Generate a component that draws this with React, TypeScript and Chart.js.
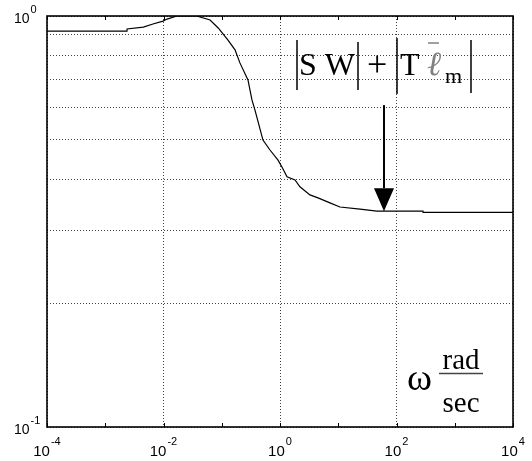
import React, { useEffect, useRef } from "react";
import { Chart, registerables } from "chart.js";

Chart.register(...registerables);

// Frequency (rad/sec) and magnitude values
const freq = [
  1e-4, 0.00236, 0.00237, 0.0045, 0.0066, 0.0098, 0.0115, 0.017, 0.037, 0.063,
  0.087, 0.128, 0.169, 0.205, 0.282, 0.33, 0.372, 0.51, 0.673, 0.925, 1.08, 1.32,
  1.81, 2.2, 3.27, 4.49, 7.2, 10.7, 23.6, 46, 285, 286, 1e4,
];
const magnitude = [
  0.919, 0.919, 0.93, 0.94, 0.956, 0.972, 0.983, 1.0, 1.0, 0.978,
  0.935, 0.874, 0.827, 0.769, 0.699, 0.625, 0.59, 0.499, 0.472, 0.446, 0.429, 0.406,
  0.399, 0.384, 0.367, 0.361, 0.351, 0.343, 0.339, 0.335, 0.335, 0.333, 0.333,
];

// Axis ticks
const xDecades = [1e-4, 1e-3, 1e-2, 1e-1, 1, 1e1, 1e2, 1e3, 1e4];
const xLabelValues = [1e-4, 1e-2, 1, 1e2, 1e4];
const xLabelExponents = ["-4", "-2", "0", "2", "4"];
const yGridValues = [0.1, 0.2, 0.3, 0.4, 0.5, 0.6, 0.7, 0.8, 0.9, 1.0];
const yLabelValues = [0.1, 1];
const yLabelExponents = ["-1", "0"];

// Arrow annotation (data coordinates)
const arrowX = 61;
const arrowTopY = 0.607;
const arrowHeadBaseY = 0.381;
const arrowTipY = 0.335;

const SANS = '"Liberation Sans", Arial, sans-serif';
const SERIF = '"Liberation Serif", "Times New Roman", serif';

const overlayPlugin = {
  id: "overlay",
  afterDraw(chart: any) {
    const ctx = chart.ctx as CanvasRenderingContext2D;
    const { left, right, top, bottom } = chart.chartArea;
    const xs = chart.scales.x;
    const ys = chart.scales.y;
    ctx.save();

    // frame
    ctx.strokeStyle = "#000";
    ctx.lineWidth = 1.6;
    ctx.strokeRect(left, top, right - left, bottom - top);

    // inward ticks on x
    ctx.lineWidth = 1;
    xDecades.forEach((v) => {
      const px = Math.round(xs.getPixelForValue(v)) + 0.5;
      ctx.beginPath();
      ctx.moveTo(px, bottom);
      ctx.lineTo(px, bottom - 4);
      ctx.moveTo(px, top);
      ctx.lineTo(px, top + 4);
      ctx.stroke();
    });

    // x tick labels
    ctx.fillStyle = "#000";
    ctx.textBaseline = "alphabetic";
    ctx.textAlign = "left";
    xLabelValues.forEach((v, i) => {
      const px = xs.getPixelForValue(v);
      ctx.font = `15px ${SANS}`;
      const w1 = ctx.measureText("10").width;
      ctx.font = `11px ${SANS}`;
      const w2 = ctx.measureText(xLabelExponents[i]).width;
      const start = px - (w1 + w2 + 1) / 2;
      ctx.font = `15px ${SANS}`;
      ctx.fillText("10", start, bottom + 29);
      ctx.font = `11px ${SANS}`;
      ctx.fillText(xLabelExponents[i], start + w1 + 1, bottom + 18);
    });

    // y tick labels
    yLabelValues.forEach((v, i) => {
      const py = ys.getPixelForValue(v);
      ctx.font = `14px ${SANS}`;
      const w1 = ctx.measureText("10").width;
      const x0 = left - 33;
      ctx.fillText("10", x0, py + 7);
      ctx.font = `11px ${SANS}`;
      ctx.fillText(yLabelExponents[i], x0 + w1 + 1, py - 3);
    });

    // arrow
    const ax = xs.getPixelForValue(arrowX);
    const aTop = ys.getPixelForValue(arrowTopY);
    const aBase = ys.getPixelForValue(arrowHeadBaseY);
    const aTip = ys.getPixelForValue(arrowTipY);
    ctx.strokeStyle = "#000";
    ctx.lineWidth = 2;
    ctx.beginPath();
    ctx.moveTo(ax, aTop);
    ctx.lineTo(ax, aBase);
    ctx.stroke();
    ctx.beginPath();
    ctx.moveTo(ax - 10, aBase);
    ctx.lineTo(ax + 10, aBase);
    ctx.lineTo(ax, aTip);
    ctx.closePath();
    ctx.fill();

    // formula |S W| + |T l_m|
    const fx = left;
    const fy = top;
    const bar = (x: number, y1: number, y2: number) => {
      ctx.beginPath();
      ctx.moveTo(x, y1);
      ctx.lineTo(x, y2);
      ctx.stroke();
    };
    ctx.lineWidth = 1.5;
    bar(fx + 250, fy + 24, fy + 74);
    bar(fx + 311, fy + 26, fy + 74);
    bar(fx + 350, fy + 22, fy + 78);
    bar(fx + 424, fy + 24, fy + 77);
    ctx.font = `32px ${SERIF}`;
    ctx.fillText("S W", fx + 252, fy + 59);
    ctx.font = `36px ${SERIF}`;
    ctx.fillText("+", fx + 320, fy + 60);
    ctx.font = `32px ${SERIF}`;
    ctx.fillText("T", fx + 353, fy + 59);
    ctx.fillStyle = "#808080";
    ctx.font = `italic 34px ${SERIF}`;
    ctx.fillText("\u2113", fx + 380, fy + 59);
    ctx.strokeStyle = "#808080";
    ctx.lineWidth = 1.5;
    ctx.beginPath();
    ctx.moveTo(fx + 381, fy + 27);
    ctx.lineTo(fx + 392, fy + 27);
    ctx.stroke();
    ctx.fillStyle = "#000";
    ctx.font = `22px ${SERIF}`;
    ctx.fillText("m", fx + 398, fy + 67);

    // omega rad / sec
    ctx.font = `38px ${SERIF}`;
    ctx.fillText("\u03c9", fx + 360, fy + 374);
    ctx.font = `29px ${SERIF}`;
    ctx.textAlign = "center";
    ctx.fillText("rad", fx + 414, fy + 353);
    ctx.fillText("sec", fx + 414, fy + 396);
    ctx.strokeStyle = "#444";
    ctx.lineWidth = 1.5;
    ctx.beginPath();
    ctx.moveTo(fx + 392, fy + 357.5);
    ctx.lineTo(fx + 436, fy + 357.5);
    ctx.stroke();

    ctx.restore();
  },
};

export default function App() {
  const canvasRef = useRef<HTMLCanvasElement | null>(null);

  useEffect(() => {
    const canvas = canvasRef.current;
    if (!canvas) return;
    const points = freq.map((f, i) => ({ x: f, y: magnitude[i] }));
    const chart = new Chart(canvas, {
      type: "line",
      data: {
        datasets: [
          {
            data: points,
            borderColor: "#000",
            borderWidth: 1.2,
            pointRadius: 0,
            tension: 0,
            fill: false,
          },
        ],
      },
      options: {
        animation: false,
        responsive: false,
        maintainAspectRatio: false,
        events: [],
        layout: { padding: { left: 0, right: 19, top: 16, bottom: 0 } },
        plugins: { legend: { display: false }, tooltip: { enabled: false } },
        scales: {
          x: {
            type: "logarithmic",
            min: 1e-4,
            max: 1e4,
            afterBuildTicks: (scale: any) => {
              scale.ticks = xDecades.map((v) => ({ value: v }));
            },
            afterFit: (scale: any) => {
              scale.height = 34;
            },
            ticks: { display: false },
            grid: {
              drawTicks: false,
              color: (c: any) => {
                const v = c.tick ? c.tick.value : 1;
                const e = Math.round(Math.log10(v));
                return e % 2 === 0 ? "#444" : "rgba(0,0,0,0)";
              },
              lineWidth: 1,
            },
            border: { display: false, dash: [1, 2] },
          },
          y: {
            type: "logarithmic",
            min: 0.1,
            max: 1,
            afterBuildTicks: (scale: any) => {
              scale.ticks = yGridValues.map((v) => ({ value: v }));
            },
            afterFit: (scale: any) => {
              scale.width = 47;
            },
            ticks: { display: false },
            grid: { drawTicks: false, color: "#444", lineWidth: 1 },
            border: { display: false, dash: [1, 2] },
          },
        },
      },
      plugins: [overlayPlugin],
    });
    return () => chart.destroy();
  }, []);

  return (
    <div style={{ position: "absolute", left: 0, top: 0, width: 532, height: 461, background: "#fff" }}>
      <canvas ref={canvasRef} width={532} height={461} style={{ display: "block" }} />
    </div>
  );
}
